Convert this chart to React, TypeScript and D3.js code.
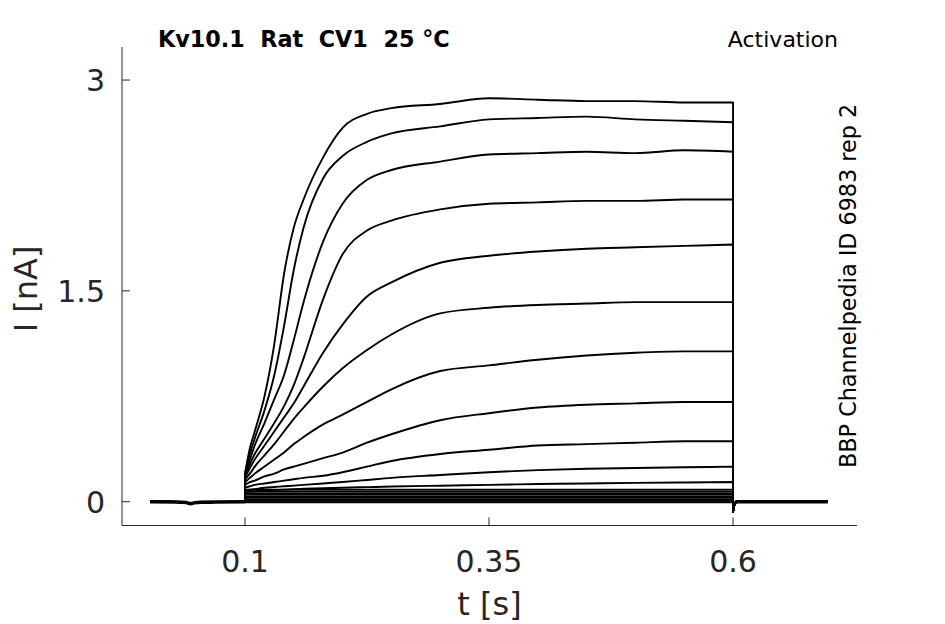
import React from 'react';
import * as d3 from 'd3';

// sample times (s) of the depolarising step
const stepTimes = [0.1, 0.105, 0.11, 0.12, 0.13, 0.14, 0.15, 0.16, 0.18, 0.2, 0.225, 0.25, 0.3, 0.35, 0.4, 0.45, 0.5, 0.55, 0.6];

// current (nA) of each sweep at stepTimes
const sweep1 = [0.2, 0.38, 0.5, 0.75, 1.12, 1.62, 1.95, 2.15, 2.45, 2.66, 2.76, 2.8, 2.83, 2.87, 2.86, 2.85, 2.85, 2.84, 2.84];
const sweep2 = [0.2, 0.34, 0.45, 0.65, 0.9, 1.25, 1.65, 1.95, 2.3, 2.46, 2.56, 2.62, 2.67, 2.72, 2.73, 2.74, 2.72, 2.71, 2.7];
const sweep3 = [0.19, 0.3, 0.4, 0.56, 0.73, 0.9, 1.15, 1.42, 1.85, 2.12, 2.29, 2.36, 2.42, 2.47, 2.48, 2.49, 2.48, 2.5, 2.49];
const sweep4 = [0.18, 0.27, 0.34, 0.45, 0.56, 0.68, 0.83, 1.02, 1.44, 1.76, 1.93, 2.0, 2.08, 2.12, 2.13, 2.14, 2.14, 2.15, 2.15];
const sweep5 = [0.17, 0.24, 0.3, 0.4, 0.5, 0.6, 0.7, 0.82, 1.06, 1.26, 1.46, 1.56, 1.7, 1.75, 1.78, 1.8, 1.81, 1.82, 1.83];
const sweep6 = [0.16, 0.2, 0.25, 0.33, 0.41, 0.5, 0.59, 0.67, 0.82, 0.95, 1.08, 1.19, 1.34, 1.38, 1.4, 1.41, 1.42, 1.42, 1.42];
const sweep7 = [0.14, 0.17, 0.2, 0.25, 0.3, 0.35, 0.41, 0.46, 0.55, 0.62, 0.71, 0.8, 0.93, 0.97, 1.01, 1.04, 1.06, 1.07, 1.07];
const sweep8 = [0.12, 0.14, 0.15, 0.18, 0.2, 0.23, 0.25, 0.27, 0.31, 0.35, 0.42, 0.48, 0.58, 0.63, 0.67, 0.69, 0.7, 0.71, 0.71];
const sweep9 = [0.1, 0.11, 0.12, 0.13, 0.14, 0.15, 0.16, 0.17, 0.185, 0.21, 0.25, 0.29, 0.34, 0.37, 0.4, 0.41, 0.42, 0.43, 0.43];
const sweep10 = [0.08, 0.085, 0.09, 0.1, 0.105, 0.11, 0.115, 0.12, 0.13, 0.14, 0.155, 0.17, 0.19, 0.21, 0.225, 0.235, 0.24, 0.245, 0.25];
const sweep11 = [0.07, 0.072, 0.075, 0.08, 0.083, 0.086, 0.09, 0.092, 0.096, 0.1, 0.104, 0.108, 0.114, 0.12, 0.126, 0.13, 0.134, 0.137, 0.14];
const sweeps = [sweep1, sweep2, sweep3, sweep4, sweep5, sweep6, sweep7, sweep8, sweep9, sweep10, sweep11];

// the small sweeps that stay flat near zero
const flatLevels = [0.085, 0.07, 0.055, 0.04, 0.028, 0.016, 0.006, -0.004];

// holding current before and after the step
const preTimes = [0.003, 0.03, 0.04, 0.044, 0.048, 0.055, 0.07, 0.1];
const preValues = [0.0, -0.002, -0.006, -0.014, -0.008, -0.004, -0.002, 0];
const tailTimes = [0.6, 0.6008, 0.603, 0.62, 0.697];
const tailValues = [-0.07, -0.03, 0, 0, 0];

const xTicks = [0.1, 0.35, 0.6];
const yTicks = [0, 1.5, 3];

const W = 945;
const H = 624;
const font = 'DejaVu Sans, sans-serif';
const grey = '#262626';

const x = d3.scaleLinear().domain([-0.026, 0.727]).range([122, 857]);
const y = d3.scaleLinear().domain([-0.169, 3.235]).range([525.5, 47]);

const lin = d3.line<[number, number]>().x(d => x(d[0])).y(d => y(d[1]));
const smooth = d3.line<[number, number]>().x(d => x(d[0])).y(d => y(d[1])).curve(d3.curveMonotoneX);

const pre: [number, number][] = preTimes.map((t, i) => [t, preValues[i]]);
const tail: [number, number][] = tailTimes.map((t, i) => [t, tailValues[i]]);

const tracePath = (vals: number[]) => {
  const rise: [number, number][] = stepTimes.map((t, i) => [t, vals[i]]);
  return (lin(pre) as string) +
    (smooth(rise) as string).replace(/^M/, 'L') +
    (lin(tail) as string).replace(/^M/, 'L');
};

export default function App() {
  const paths = [
    ...sweeps.map(s => tracePath(s)),
    ...flatLevels.map(v => tracePath(stepTimes.map(() => v))),
  ];
  return (
    <div style={{ position: 'absolute', left: 0, top: 0 }}>
      <svg width={W} height={H} style={{ display: 'block', background: '#fff' }}>
        {/* traces */}
        <g fill="none" stroke="#000" strokeWidth={1.9} strokeLinejoin="round">
          {paths.map((d, i) => <path key={i} d={d} />)}
          <path d={lin(pre) as string} strokeWidth={3.5} />
          <path d={lin(tail.slice(2)) as string} strokeWidth={3.5} />
        </g>

        {/* axes */}
        <g stroke={grey} strokeWidth={1} fill="none">
          <line x1={x.range()[0]} x2={x.range()[1]} y1={y.range()[0]} y2={y.range()[0]} />
          <line x1={x.range()[0]} x2={x.range()[0]} y1={y.range()[0]} y2={y.range()[1]} />
          {xTicks.map(t => (
            <line key={t} x1={x(t)} x2={x(t)} y1={y.range()[0]} y2={y.range()[0] - 8} />
          ))}
          {yTicks.map(t => (
            <line key={t} x1={x.range()[0]} x2={x.range()[0] + 8} y1={y(t)} y2={y(t)} />
          ))}
        </g>
        <g fontFamily={font} fontSize={30} fill={grey}>
          {xTicks.map(t => (
            <text key={t} x={x(t)} y={572} textAnchor="middle">{String(t)}</text>
          ))}
          {yTicks.map(t => (
            <text key={t} x={105} y={y(t)} dy="0.36em" textAnchor="end">{String(t)}</text>
          ))}
        </g>
        <g fontFamily={font} fontSize={32} fill={grey}>
          <text x={(x.range()[0] + x.range()[1]) / 2} y={615} textAnchor="middle">t [s]</text>
          <text transform={`translate(37, ${y(1.5) - 2}) rotate(-90)`} textAnchor="middle">I [nA]</text>
        </g>

        {/* annotations */}
        <text x={158} y={47} fontFamily={font} fontSize={22.3} fontWeight="bold" fill="#000" xmlSpace="preserve">
          Kv10.1  Rat  CV1  25 °C
        </text>
        <text x={838} y={46.5} fontFamily={font} fontSize={22} fill="#000" textAnchor="end">Activation</text>
        <text transform="translate(856, 468) rotate(-90)" fontFamily={font} fontSize={22.3} fill="#000">
          BBP Channelpedia ID 6983 rep 2
        </text>
      </svg>
    </div>
  );
}
